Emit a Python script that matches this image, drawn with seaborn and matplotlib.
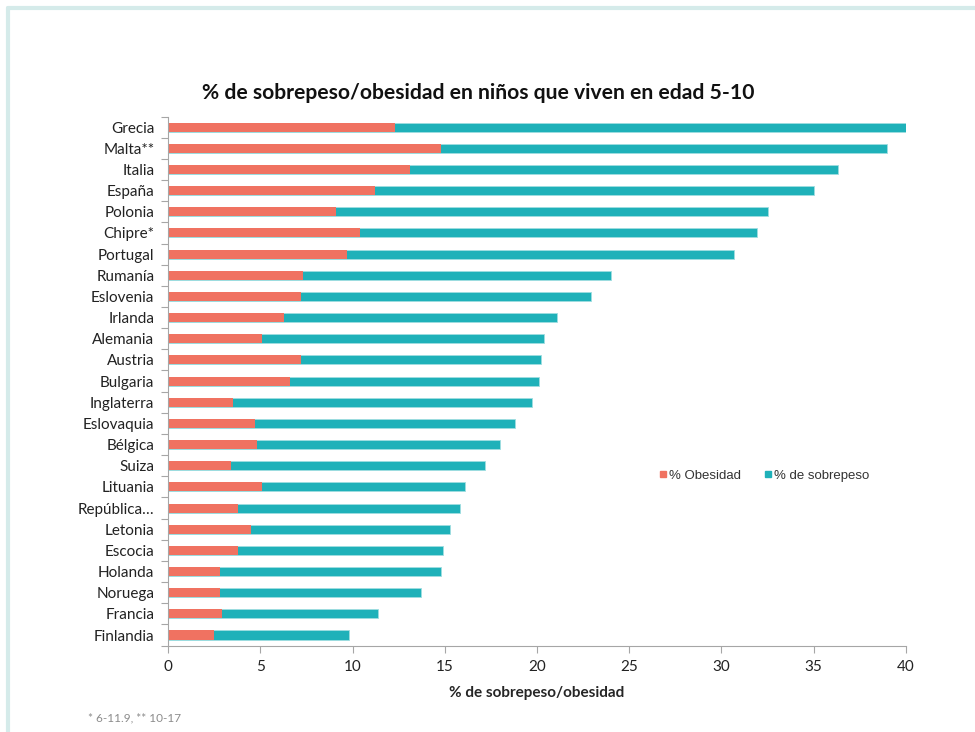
import matplotlib
matplotlib.use("Agg")
import matplotlib.pyplot as plt
import seaborn as sns
import pandas as pd
from matplotlib.ticker import FixedLocator
from matplotlib.lines import Line2D

countries = ["Grecia", "Malta**", "Italia", "España", "Polonia", "Chipre*", "Portugal",
             "Rumanía", "Eslovenia", "Irlanda", "Alemania", "Austria", "Bulgaria",
             "Inglaterra", "Eslovaquia", "Bélgica", "Suiza", "Lituania", "República…",
             "Letonia", "Escocia", "Holanda", "Noruega", "Francia", "Finlandia"]
obesidad = [12.3, 14.8, 13.1, 11.2, 9.1, 10.4, 9.7, 7.3, 7.2, 6.3, 5.1, 7.2, 6.6,
            3.5, 4.7, 4.8, 3.4, 5.1, 3.8, 4.5, 3.8, 2.8, 2.8, 2.9, 2.5]
total = [40.1, 39.0, 36.3, 35.0, 32.5, 31.9, 30.7, 24.0, 22.9, 21.1, 20.4, 20.2, 20.1,
         19.7, 18.8, 18.0, 17.2, 16.1, 15.8, 15.3, 14.9, 14.8, 13.7, 11.4, 9.8]
sobrepeso = [round(t - o, 1) for t, o in zip(total, obesidad)]
series_names = ["% Obesidad", "% de sobrepeso"]
xticks = [0, 5, 10, 15, 20, 25, 30, 35, 40]

df = pd.DataFrame({"pais": countries, "obesidad": obesidad,
                   "sobrepeso": sobrepeso})
df["acum"] = df["obesidad"] + df["sobrepeso"]

c_obe = "#F07261"
c_sob = "#1FB1B9"

sns.set_style("white")
plt.rcParams["font.family"] = ["Lato", "DejaVu Sans"]

fig = plt.figure(figsize=(9.75, 7.32), dpi=100)
ax = fig.add_axes([0.1726, 0.118, 0.7565, 0.7228])

sns.barplot(data=df, y="pais", x="acum", color=c_sob, orient="h", width=0.43,
            saturation=1, ax=ax, edgecolor="#9fdde0", linewidth=0.6)
sns.barplot(data=df, y="pais", x="obesidad", color=c_obe, orient="h", width=0.43,
            saturation=1, ax=ax, linewidth=0)

ax.set_xlim(0, 40)
ax.set_ylim(len(countries) - 0.5, -0.5)
ax.set_xticks(xticks)
ax.set_xticklabels([str(v) for v in xticks], fontsize=11, color="#222222")
ax.set_yticks(range(len(countries)))
ax.set_yticklabels(countries, fontsize=11, color="#222222")
ax.yaxis.set_minor_locator(FixedLocator([i - 0.5 for i in range(len(countries) + 1)]))
ax.tick_params(axis="y", which="major", length=0, pad=10)
ax.tick_params(axis="y", which="minor", length=5, color="#a6a6a6", width=0.8, left=True)
ax.tick_params(axis="x", which="major", length=5, color="#a6a6a6", width=0.8, pad=5, bottom=True)

for s in ["top", "right"]:
    ax.spines[s].set_visible(False)
for s in ["left", "bottom"]:
    ax.spines[s].set_color("#a6a6a6")
    ax.spines[s].set_linewidth(0.8)

ax.set_ylabel("")
ax.set_xlabel("% de sobrepeso/obesidad", fontsize=11, fontweight="bold", labelpad=9)

fig.text(0.49, 0.873, "% de sobrepeso/obesidad en niños que viven en edad 5-10",
         ha="center", va="center", fontsize=15.2, fontweight="bold", color="#111111")

handles = [Line2D([0], [0], marker="s", linestyle="", markersize=5,
                  markerfacecolor=c_obe, markeredgecolor=c_obe),
           Line2D([0], [0], marker="s", linestyle="", markersize=5,
                  markerfacecolor=c_sob, markeredgecolor=c_sob)]
fig.legend(handles, series_names, loc="center", bbox_to_anchor=(0.783, 0.35),
           ncol=2, frameon=False, handletextpad=0.1, columnspacing=1.6,
           prop={"family": ["Liberation Sans", "DejaVu Sans"], "size": 9.5},
           handlelength=0.8, labelcolor="#333333")

fig.text(0.09, 0.014, "* 6-11.9, ** 10-17", fontsize=8.5, color="#8c8c8c")

# light frame (top and left edges)
fig.add_artist(Line2D([0.0085, 1.0], [0.9895, 0.9895], transform=fig.transFigure,
                      color="#d5ebea", linewidth=3))
fig.add_artist(Line2D([0.0085, 0.0085], [0.0, 0.9895], transform=fig.transFigure,
                      color="#d5ebea", linewidth=3))

fig.savefig("out.png", dpi=100, facecolor="white")
